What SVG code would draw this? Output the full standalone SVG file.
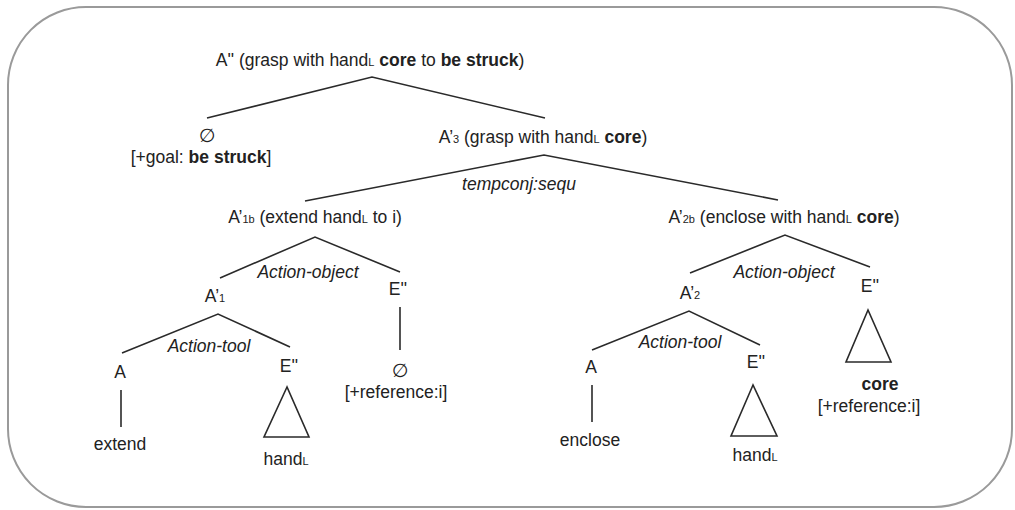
<svg xmlns="http://www.w3.org/2000/svg" width="1015" height="510" viewBox="0 0 1015 510">
<style>
text{font-family:"Liberation Sans","DejaVu Sans",Arial,sans-serif;font-size:17.5px;fill:#222;text-anchor:middle}
.s{font-size:11px}
.b{font-weight:bold}
.i{font-style:italic}
.e{font-family:"DejaVu Sans","Liberation Sans",sans-serif;font-size:19px;font-style:italic}
.ln{stroke:#2a2a2a;stroke-width:1.6;fill:none}
.tri{stroke:#2a2a2a;stroke-width:1.6;fill:#fff}
</style>
<rect x="8" y="7" width="1004" height="500" rx="78" ry="78" fill="#fff" stroke="#9a9a9a" stroke-width="2"/>
<g id="connectors">
<polyline class="ln" points="207,118 372,77 545,118"/>
<polyline class="ln" points="305,201 544,155 778,200"/>
<polyline class="ln" points="220,278 315,237 400,272"/>
<polyline class="ln" points="122,353 218,314 290,347"/>
<line class="ln" x1="400" y1="307" x2="400" y2="350"/>
<line class="ln" x1="121" y1="390" x2="121" y2="427"/>
<polyline class="ln" points="690,273 785,235 870,267"/>
<polyline class="ln" points="592,350 689,311 760,345"/>
<line class="ln" x1="592" y1="385" x2="592" y2="422"/>
</g>
<g id="labels">
<text class="i" x="519" y="190">tempconj:sequ</text>
<text class="i" x="308" y="278">Action-object</text>
<text class="i" x="209" y="352">Action-tool</text>
<text class="i" x="784" y="278">Action-object</text>
<text class="i" x="680" y="348">Action-tool</text>
</g>
<g id="root"><text x="370" y="66">A'' (grasp with hand<tspan class="s">L</tspan> <tspan class="b">core</tspan> to <tspan class="b">be struck</tspan>)</text></g>
<g id="goal"><text class="e" x="207" y="142">∅</text><text x="201" y="163">[+goal: <tspan class="b">be struck</tspan>]</text></g>
<g id="a3"><text x="543" y="143">A’<tspan class="s">3</tspan> (grasp with hand<tspan class="s">L</tspan> <tspan class="b">core</tspan>)</text></g>
<g id="a1b"><text x="315" y="223">A’<tspan class="s">1b</tspan> (extend hand<tspan class="s">L</tspan> to i)</text></g>
<g id="a1"><text x="215" y="302">A’<tspan class="s">1</tspan></text></g>
<g id="e-left-1"><text x="398" y="295">E''</text></g>
<g id="ref-left"><text class="e" x="400" y="377">∅</text><text x="396" y="398">[+reference:i]</text></g>
<g id="a-left"><text x="120" y="378">A</text></g>
<g id="extend"><text x="120" y="450">extend</text></g>
<g id="e-left-2"><text x="289" y="372">E''</text></g>
<g id="tri-left"><polygon class="tri" points="287,387 264,437 309,437"/></g>
<g id="hand-left"><text x="286" y="465">hand<tspan class="s">L</tspan></text></g>
<g id="a2b"><text x="784" y="223">A’<tspan class="s">2b</tspan> (enclose with hand<tspan class="s">L</tspan> <tspan class="b">core</tspan>)</text></g>
<g id="a2"><text x="690" y="299">A’<tspan class="s">2</tspan></text></g>
<g id="e-right-1"><text x="870" y="292">E''</text></g>
<g id="tri-core"><polygon class="tri" points="868,310 846,362 891,362"/></g>
<g id="core"><text class="b" x="880" y="390">core</text><text x="869" y="412">[+reference:i]</text></g>
<g id="a-right"><text x="591" y="373">A</text></g>
<g id="enclose"><text x="590" y="446">enclose</text></g>
<g id="e-right-2"><text x="756" y="368">E''</text></g>
<g id="tri-right"><polygon class="tri" points="753,385 731,436 777,436"/></g>
<g id="hand-right"><text x="755" y="461">hand<tspan class="s">L</tspan></text></g>
</svg>
